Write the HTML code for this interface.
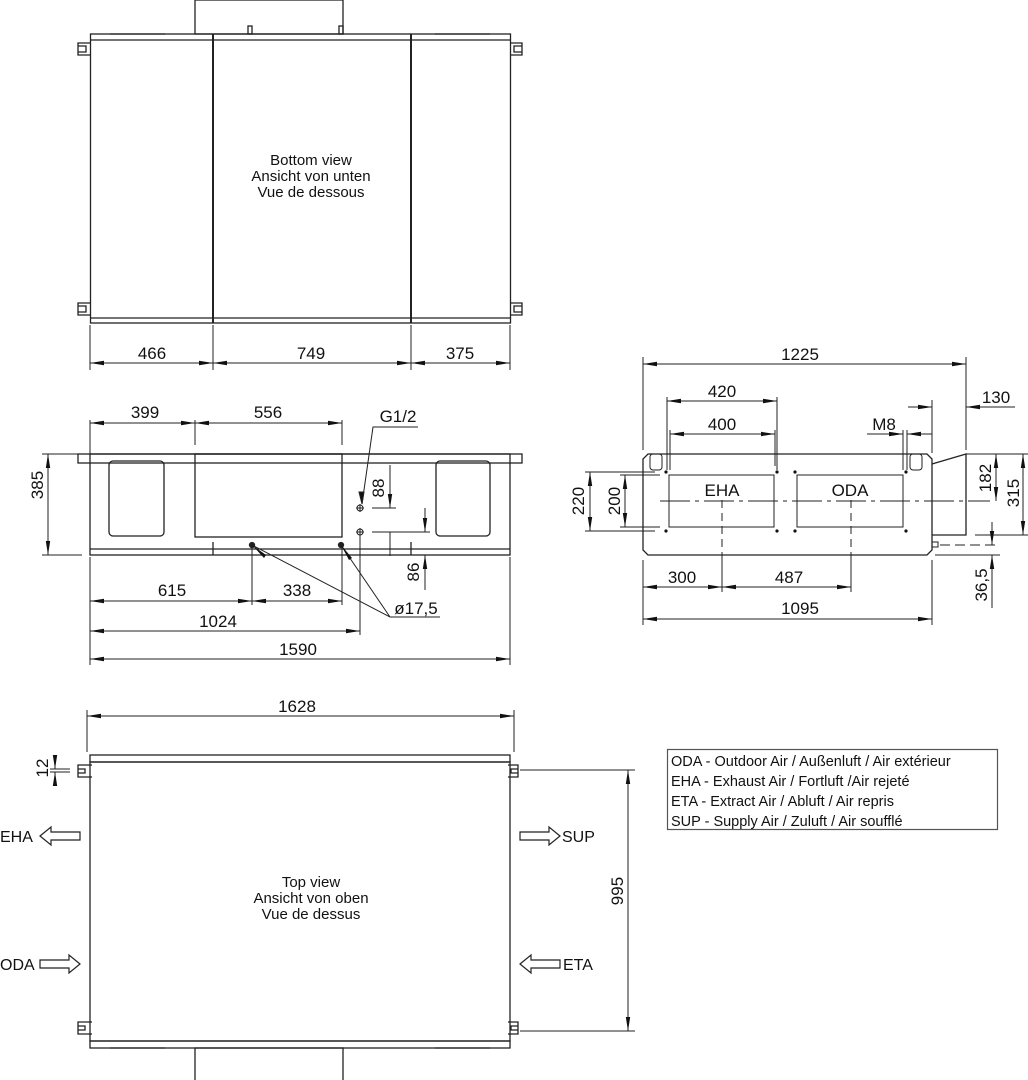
<!DOCTYPE html>
<html><head><meta charset="utf-8"><style>
html,body{margin:0;padding:0;background:#fff;}
svg{display:block;}
text{font-family:"Liberation Sans",sans-serif;fill:#111;}
.d{font-size:17px;}
</style></head><body>
<svg width="1028" height="1080" viewBox="0 0 1028 1080" xmlns="http://www.w3.org/2000/svg">
<defs>
<marker id="a" viewBox="0 0 14 6" refX="14" refY="3" markerWidth="14" markerHeight="6" orient="auto-start-reverse" markerUnits="userSpaceOnUse"><path d="M0,0.8 L14,3 L0,5.2z" fill="#111"/></marker>
</defs>
<g stroke="#222" stroke-width="1.3" fill="none">
<!-- ============ Bottom view ============ -->
<rect x="195" y="0" width="148" height="34"/>
<rect x="248" y="26" width="4" height="8"/><rect x="339" y="26" width="4" height="8"/>
<rect x="90.5" y="34" width="420" height="289"/>
<line x1="90" y1="40" x2="510" y2="40"/><line x1="90" y1="318" x2="510" y2="318"/>
<line x1="213" y1="34" x2="213" y2="323" stroke-width="2"/><line x1="411" y1="34" x2="411" y2="323" stroke-width="2"/>
<line x1="110" y1="34" x2="165" y2="34"/><line x1="435" y1="34" x2="490" y2="34"/>
<path d="M90,43 H78 V55 H90 M78,46 H86 V52 H78"/><path d="M90,303 H78 V315 H90 M78,306 H86 V312 H78"/>
<path d="M510,43 H522 V55 H510 M522,46 H514 V52 H522"/><path d="M510,303 H522 V315 H510 M522,306 H514 V312 H522"/>
<line x1="90" y1="325" x2="90" y2="370" stroke-width="1"/><line x1="213" y1="325" x2="213" y2="370" stroke-width="1"/><line x1="411" y1="325" x2="411" y2="370" stroke-width="1"/><line x1="510" y1="325" x2="510" y2="370" stroke-width="1"/>
<g stroke-width="1"><line x1="90" y1="363" x2="213" y2="363" marker-start="url(#a)" marker-end="url(#a)"/><line x1="213" y1="363" x2="411" y2="363" marker-start="url(#a)" marker-end="url(#a)"/><line x1="411" y1="363" x2="510" y2="363" marker-start="url(#a)" marker-end="url(#a)"/></g>

<!-- ============ Front view ============ -->
<rect x="78" y="454" width="444" height="9"/>
<rect x="90" y="454" width="420" height="101"/>
<line x1="90" y1="549" x2="510" y2="549"/>
<rect x="109" y="461" width="55" height="75" rx="4"/><rect x="436" y="461" width="54" height="75" rx="4"/>
<rect x="195" y="454" width="147" height="83"/>
<line x1="213" y1="542" x2="213" y2="555"/><line x1="411" y1="542" x2="411" y2="555"/>
<g stroke-width="1">
<line x1="90" y1="420" x2="90" y2="454"/><line x1="195" y1="420" x2="195" y2="445"/><line x1="342" y1="420" x2="342" y2="445"/>
<line x1="90" y1="423" x2="195" y2="423" marker-start="url(#a)" marker-end="url(#a)"/><line x1="195" y1="423" x2="342" y2="423" marker-start="url(#a)" marker-end="url(#a)"/>
<line x1="42" y1="454" x2="78" y2="454"/><line x1="42" y1="555" x2="82" y2="555"/>
<line x1="48" y1="454" x2="48" y2="555" marker-start="url(#a)" marker-end="url(#a)"/>
<circle cx="360" cy="508" r="3"/><line x1="356" y1="508" x2="364" y2="508"/><line x1="360" y1="504" x2="360" y2="512"/>
<circle cx="360" cy="532" r="3"/><line x1="356" y1="532" x2="364" y2="532"/><line x1="360" y1="528" x2="360" y2="536"/>
<path d="M418,427 H373 L362,504" /><path d="M364,492 L362,504 L359,492z" fill="#111"/>
<line x1="372" y1="508" x2="396" y2="508"/><line x1="372" y1="532" x2="430" y2="532"/>
<line x1="390" y1="465" x2="390" y2="508" marker-end="url(#a)"/><line x1="390" y1="532" x2="390" y2="556"/>
<line x1="425" y1="508" x2="425" y2="532" marker-end="url(#a)"/><line x1="425" y1="555" x2="425" y2="590" marker-start="url(#a)"/>
<line x1="90" y1="557" x2="90" y2="665"/><line x1="252" y1="548" x2="252" y2="605"/><line x1="342" y1="548" x2="342" y2="605"/><line x1="360" y1="536" x2="360" y2="635"/><line x1="510" y1="557" x2="510" y2="665"/>
<line x1="90" y1="601" x2="252" y2="601" marker-start="url(#a)" marker-end="url(#a)"/><line x1="252" y1="601" x2="342" y2="601" marker-start="url(#a)" marker-end="url(#a)"/>
<line x1="90" y1="631" x2="360" y2="631" marker-start="url(#a)" marker-end="url(#a)"/>
<line x1="90" y1="659" x2="510" y2="659" marker-start="url(#a)" marker-end="url(#a)"/>
<path d="M440,617 H390 L252,545 M390,617 L341,545"/>
</g>
<circle cx="252" cy="545" r="2.5" fill="#222"/><circle cx="341" cy="545" r="2.5" fill="#222"/>
<path d="M252,545 L266,555 L264,558z M341,545 L352,558 L349,560z" fill="#111" stroke="none"/>

<!-- ============ Side view ============ -->
<path d="M648,454 H927 L932,459 V550 L927,555 H648 L643,550 V459z"/>
<path d="M932,464 L966,454 V535 H932"/>
<rect x="669" y="475" width="105" height="52" stroke-width="1"/><rect x="797" y="475" width="106" height="52" stroke-width="1"/>
<rect x="650" y="454" width="12" height="16" rx="3" stroke-width="1"/><rect x="910" y="454" width="12" height="16" rx="3" stroke-width="1"/>
<rect x="932" y="542" width="6" height="5" stroke-width="1"/>
<g fill="#111" stroke="none"><circle cx="666" cy="472" r="1.6"/><circle cx="777" cy="472" r="1.6"/><circle cx="666" cy="531" r="1.6"/><circle cx="777" cy="531" r="1.6"/><circle cx="795" cy="472" r="1.6"/><circle cx="906" cy="472" r="1.6"/><circle cx="795" cy="531" r="1.6"/><circle cx="906" cy="531" r="1.6"/></g>
<g stroke-width="1">
<line x1="660" y1="501" x2="990" y2="501" stroke-dasharray="30,5,4,5"/>
<line x1="722" y1="500" x2="722" y2="555" stroke-dasharray="8,5"/><line x1="851" y1="500" x2="851" y2="555" stroke-dasharray="8,5"/>
<line x1="722" y1="555" x2="722" y2="592"/><line x1="851" y1="555" x2="851" y2="592"/>
<line x1="643" y1="357" x2="643" y2="450"/><line x1="966" y1="357" x2="966" y2="450"/>
<line x1="643" y1="364" x2="966" y2="364" marker-start="url(#a)" marker-end="url(#a)"/>
<line x1="667" y1="397" x2="667" y2="470"/><line x1="777" y1="397" x2="777" y2="470"/><line x1="670" y1="430" x2="670" y2="470"/><line x1="775" y1="430" x2="775" y2="466"/>
<line x1="667" y1="401" x2="777" y2="401" marker-start="url(#a)" marker-end="url(#a)"/>
<line x1="670" y1="434" x2="775" y2="434" marker-start="url(#a)" marker-end="url(#a)"/>
<line x1="932" y1="400" x2="932" y2="453"/>
<line x1="908" y1="407" x2="932" y2="407" marker-end="url(#a)"/><line x1="966" y1="407" x2="1015" y2="407" marker-start="url(#a)"/>
<line x1="867" y1="434" x2="903" y2="434" marker-end="url(#a)"/><line x1="907" y1="434" x2="932" y2="434" marker-start="url(#a)"/>
<line x1="903" y1="430" x2="903" y2="470"/><line x1="907" y1="430" x2="907" y2="470"/>
<line x1="643" y1="560" x2="643" y2="625"/><line x1="932" y1="560" x2="932" y2="625"/>
<line x1="643" y1="587" x2="722" y2="587" marker-start="url(#a)" marker-end="url(#a)"/><line x1="722" y1="587" x2="851" y2="587" marker-start="url(#a)" marker-end="url(#a)"/>
<line x1="643" y1="619" x2="932" y2="619" marker-start="url(#a)" marker-end="url(#a)"/>
<line x1="585" y1="472" x2="655" y2="472"/><line x1="585" y1="531" x2="655" y2="531"/><line x1="620" y1="475" x2="660" y2="475"/><line x1="620" y1="527" x2="660" y2="527"/>
<line x1="590" y1="472" x2="590" y2="531" marker-start="url(#a)" marker-end="url(#a)"/>
<line x1="625" y1="475" x2="625" y2="527" marker-start="url(#a)" marker-end="url(#a)"/>
<line x1="966" y1="454" x2="1028" y2="454"/><line x1="975" y1="535" x2="1028" y2="535"/>
<line x1="996" y1="454" x2="996" y2="501" marker-start="url(#a)" marker-end="url(#a)"/>
<line x1="1023" y1="454" x2="1023" y2="535" marker-start="url(#a)" marker-end="url(#a)"/>
<line x1="940" y1="545" x2="998" y2="545" stroke-dasharray="10,5"/><line x1="935" y1="555" x2="1000" y2="555"/>
<line x1="992" y1="522" x2="992" y2="545" marker-end="url(#a)"/><line x1="992" y1="555" x2="992" y2="608" marker-start="url(#a)"/>
</g>

<!-- ============ Top view ============ -->
<rect x="90" y="755" width="420" height="7"/>
<rect x="90" y="762" width="420" height="279"/>
<rect x="90" y="1041" width="420" height="7"/>
<rect x="195" y="1048" width="148" height="34"/>
<line x1="110" y1="1048" x2="165" y2="1048"/><line x1="435" y1="1048" x2="490" y2="1048"/>
<path d="M92,765 H78 V777 H92 M78,769 H85 V773 H78"/><path d="M92,1022 H78 V1034 H92 M78,1026 H85 V1030 H78"/>
<path d="M508,765 H518 V777 H508 M518,769 H511 V773 H518"/><path d="M508,1022 H518 V1034 H508 M518,1026 H511 V1030 H518"/>
<g stroke-width="1">
<line x1="87" y1="710" x2="87" y2="752"/><line x1="514" y1="710" x2="514" y2="752"/>
<line x1="87" y1="716" x2="514" y2="716" marker-start="url(#a)" marker-end="url(#a)"/>
<line x1="50" y1="769" x2="70" y2="769"/><line x1="50" y1="772" x2="70" y2="772"/>
<line x1="55" y1="755" x2="55" y2="769" marker-end="url(#a)"/><line x1="55" y1="772" x2="55" y2="786" marker-start="url(#a)"/>
<line x1="520" y1="770" x2="635" y2="770"/><line x1="520" y1="1031" x2="635" y2="1031"/>
<line x1="628" y1="770" x2="628" y2="1031" marker-start="url(#a)" marker-end="url(#a)"/>
</g>
<g stroke-width="1.2">
<path d="M40,836 L51,827 V832 H80 V840 H51 V845z"/>
<path d="M560,836 L549,827 V832 H520 V840 H549 V845z"/>
<path d="M80,964 L69,955 V960 H40 V968 H69 V973z"/>
<path d="M520,964 L531,955 V960 H560 V968 H531 V973z"/>
</g>
<!-- legend -->
<rect x="667.5" y="749.5" width="330" height="80" stroke="#555" stroke-width="1.2"/>
</g>

<!-- texts -->
<g font-size="15" text-anchor="middle">
<text x="311" y="165">Bottom view</text><text x="311" y="181">Ansicht von unten</text><text x="311" y="197">Vue de dessous</text>
<text x="311" y="887">Top view</text><text x="311" y="903">Ansicht von oben</text><text x="311" y="919">Vue de dessus</text>
</g>
<g class="d" text-anchor="middle">
<text x="152" y="359">466</text><text x="311" y="359">749</text><text x="460" y="359">375</text>
<text x="145" y="418">399</text><text x="268" y="418">556</text>
<text x="398" y="422">G1/2</text>
<text x="172" y="596">615</text><text x="297" y="596">338</text>
<text x="218" y="627">1024</text><text x="298" y="655">1590</text>
<text x="416" y="614">ø17,5</text>
<text x="800" y="360">1225</text><text x="722" y="397">420</text><text x="722" y="430">400</text>
<text x="996" y="403">130</text><text x="884" y="430">M8</text>
<text x="722" y="496">EHA</text><text x="850" y="496">ODA</text>
<text x="682" y="583">300</text><text x="789" y="583">487</text><text x="800" y="614">1095</text>
<text x="297" y="712">1628</text>
<text transform="translate(43,485) rotate(-90)">385</text>
<text transform="translate(384,488) rotate(-90)">88</text>
<text transform="translate(419,572) rotate(-90)">86</text>
<text transform="translate(584,501) rotate(-90)">220</text>
<text transform="translate(620,501) rotate(-90)">200</text>
<text transform="translate(991,478) rotate(-90)">182</text>
<text transform="translate(1019,493) rotate(-90)">315</text>
<text transform="translate(987,585) rotate(-90)">36,5</text>
<text transform="translate(48,768) rotate(-90)">12</text>
<text transform="translate(623,891) rotate(-90)">995</text>
</g>
<g font-size="16">
<text x="0" y="842">EHA</text><text x="562" y="842">SUP</text>
<text x="0" y="970">ODA</text><text x="563" y="970">ETA</text>
</g>
<g font-size="14.5">
<text x="671" y="766">ODA - Outdoor Air / Außenluft / Air extérieur</text>
<text x="671" y="786">EHA - Exhaust Air / Fortluft /Air rejeté</text>
<text x="671" y="806">ETA - Extract Air / Abluft / Air repris</text>
<text x="671" y="826">SUP - Supply Air / Zuluft / Air soufflé</text>
</g>
</svg>
</body></html>
